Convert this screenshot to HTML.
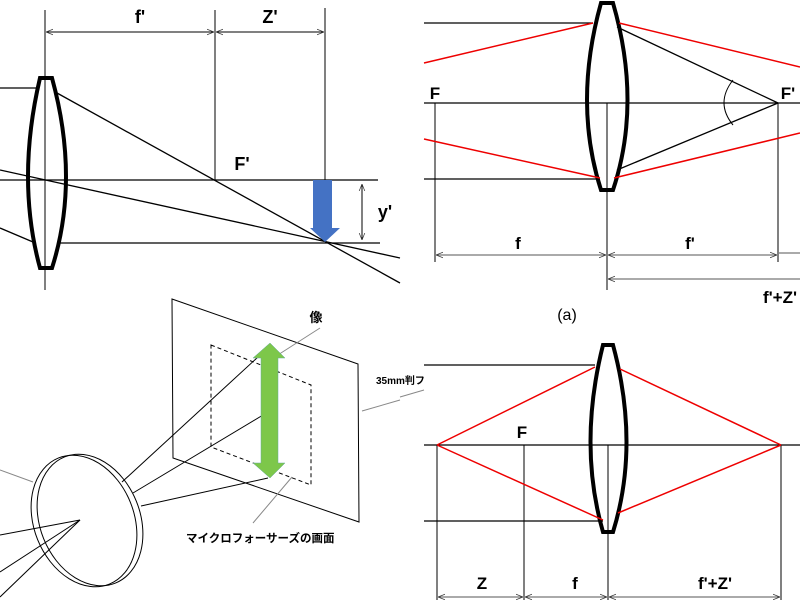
<!DOCTYPE html>
<html><head><meta charset="utf-8"><style>body{margin:0;background:#fff}svg{display:block}</style></head><body>
<svg width="800" height="600" viewBox="0 0 800 600" xmlns="http://www.w3.org/2000/svg" font-family="Liberation Sans, sans-serif">
<defs>
<marker id="a" viewBox="0 0 10 10" refX="10" refY="5" markerWidth="7" markerHeight="7" orient="auto-start-reverse"><path d="M0,1 L10,5 L0,9" fill="none" stroke="#333" stroke-width="1"/></marker>
</defs>
<g stroke="#000" stroke-width="1.3" fill="none">
<line x1="45" y1="10" x2="45" y2="290" stroke-width="1"/>
<line x1="215" y1="10" x2="215" y2="180" stroke-width="1"/>
<line x1="325" y1="8" x2="325" y2="180" stroke-width="1"/>
<line x1="46" y1="32" x2="214" y2="32" stroke-width="1" marker-start="url(#a)" marker-end="url(#a)"/>
<line x1="216" y1="32" x2="324" y2="32" stroke-width="1" marker-start="url(#a)" marker-end="url(#a)"/>
<line x1="0" y1="88" x2="38" y2="88"/>
<line x1="0" y1="180" x2="378" y2="180"/>
<line x1="60" y1="243" x2="380" y2="243"/>
<line x1="57" y1="93" x2="400" y2="283"/>
<line x1="0" y1="170" x2="400" y2="258"/>
<line x1="0" y1="228" x2="33" y2="242"/>
<line x1="362" y1="184" x2="362" y2="240" stroke-width="1" marker-start="url(#a)" marker-end="url(#a)"/>
<path d="M40,78 L52,78 Q80,180 52,268 L40,268 Q16,180 40,78 Z" stroke-width="4"/>
<line x1="424" y1="103" x2="800" y2="103"/>
<line x1="607" y1="103" x2="607" y2="290" stroke-width="1"/>
<line x1="435" y1="103" x2="435" y2="262" stroke-width="1"/>
<line x1="778" y1="103" x2="778" y2="262" stroke-width="1"/>
<line x1="424" y1="23" x2="593" y2="23"/>
<line x1="424" y1="179" x2="600" y2="179"/>
<line x1="617" y1="27" x2="778" y2="103"/>
<line x1="617" y1="170" x2="778" y2="103"/>
<path d="M733,80 Q715,103 733,125" stroke-width="1"/>
<line x1="436" y1="255" x2="606" y2="255" stroke-width="1" stroke="#555" marker-start="url(#a)" marker-end="url(#a)"/>
<line x1="608" y1="255" x2="777" y2="255" stroke-width="1" stroke="#555" marker-start="url(#a)" marker-end="url(#a)"/>
<line x1="779" y1="253" x2="800" y2="253" stroke-width="1" stroke="#555"/>
<line x1="608" y1="279" x2="800" y2="279" stroke-width="1" stroke="#555" marker-start="url(#a)"/>
<path d="M601,3 L613,3 Q642,103 613,190 L601,190 Q573,103 601,3 Z" stroke-width="4"/>
<line x1="424" y1="445" x2="800" y2="445"/>
<line x1="424" y1="365" x2="595" y2="365"/>
<line x1="424" y1="521" x2="603" y2="521"/>
<line x1="437" y1="445" x2="437" y2="600" stroke-width="1"/>
<line x1="524" y1="445" x2="524" y2="600" stroke-width="1"/>
<line x1="608" y1="445" x2="608" y2="600" stroke-width="1"/>
<line x1="781" y1="445" x2="781" y2="600" stroke-width="1"/>
<line x1="438" y1="597" x2="523" y2="597" stroke-width="1" stroke="#555" marker-start="url(#a)" marker-end="url(#a)"/>
<line x1="525" y1="597" x2="607" y2="597" stroke-width="1" stroke="#555" marker-start="url(#a)" marker-end="url(#a)"/>
<line x1="609" y1="597" x2="780" y2="597" stroke-width="1" stroke="#555" marker-start="url(#a)" marker-end="url(#a)"/>
<path d="M603,345 L613,345 Q640,445 613,532 L603,532 Q578,445 603,345 Z" stroke-width="4"/>
</g>
<g stroke="#e00" stroke-width="1.5" fill="none">
<line x1="424" y1="63" x2="593" y2="23"/>
<line x1="619" y1="23" x2="800" y2="67"/>
<line x1="424" y1="139" x2="600" y2="178"/>
<line x1="614" y1="178" x2="800" y2="133"/>
<line x1="437" y1="445" x2="595" y2="367"/>
<line x1="437" y1="445" x2="603" y2="520"/>
<line x1="620" y1="369" x2="781" y2="445"/>
<line x1="618" y1="513" x2="781" y2="445"/>
</g>
<path d="M313,180 L332,180 L332,228 L340,228 L325,242 L310,228 L313,228 Z" fill="#4472c4"/>
<g fill="none" stroke="#000" stroke-width="1">
<path d="M172,299 L358,364 L359,522 L173,458 Z"/>
<path d="M211,345 L311,385 L311,485 L211,447 Z" stroke-dasharray="4,3"/>
<ellipse cx="90" cy="520" rx="50" ry="68" transform="rotate(-22 90 520)"/>
<ellipse cx="84" cy="521" rx="50" ry="68" transform="rotate(-22 84 521)"/>
<line x1="122" y1="482" x2="258" y2="357"/>
<line x1="133" y1="493" x2="268" y2="412"/>
<line x1="141" y1="506" x2="268" y2="478"/>
<line x1="0" y1="535" x2="80" y2="520"/>
<line x1="0" y1="572" x2="80" y2="520"/>
<line x1="0" y1="597" x2="80" y2="520"/>
<g stroke="#888"><line x1="320" y1="328" x2="270" y2="360"/><line x1="362" y1="411" x2="400" y2="400"/><line x1="253" y1="523" x2="292" y2="477"/><line x1="0" y1="470" x2="33" y2="482"/><line x1="400" y1="397" x2="424" y2="390"/></g>
</g>
<path d="M270,343 L285,358 L278,358 L278,463 L285,463 L270,478 L253,463 L261,463 L261,358 L253,358 Z" fill="#7dc74a" stroke="#6a9" stroke-width="0.5"/>
<g font-weight="bold" fill="#000">
<text x="140" y="23" font-size="18" text-anchor="middle">f'</text>
<text x="270" y="23" font-size="18" text-anchor="middle">Z'</text>
<text x="242" y="170" font-size="18" text-anchor="middle">F'</text>
<text x="385" y="218" font-size="18" text-anchor="middle">y'</text>
<text x="435" y="99" font-size="17" text-anchor="middle">F</text>
<text x="788" y="99" font-size="17" text-anchor="middle">F'</text>
<text x="518" y="249" font-size="17" text-anchor="middle">f</text>
<text x="690" y="249" font-size="17" text-anchor="middle">f'</text>
<text x="780" y="303" font-size="17" text-anchor="middle">f'+Z'</text>
<text x="522" y="438" font-size="17" text-anchor="middle">F</text>
<text x="482" y="589" font-size="17" text-anchor="middle">Z</text>
<text x="575" y="589" font-size="17" text-anchor="middle">f</text>
<text x="715" y="589" font-size="17" text-anchor="middle">f'+Z'</text>
<text x="316" y="322" font-size="13" font-family="Liberation Sans, Noto Sans CJK JP, sans-serif" text-anchor="middle">像</text>
<text x="376" y="384" font-size="10" font-family="Liberation Sans, Noto Sans CJK JP, sans-serif">35mm判フ</text>
<text x="186" y="542" font-size="11.5" font-family="Liberation Sans, Noto Sans CJK JP, sans-serif">マイクロフォーサーズの画面</text>
</g>
<text x="567" y="320" font-size="16" text-anchor="middle">(a)</text>
</svg>
</body></html>
